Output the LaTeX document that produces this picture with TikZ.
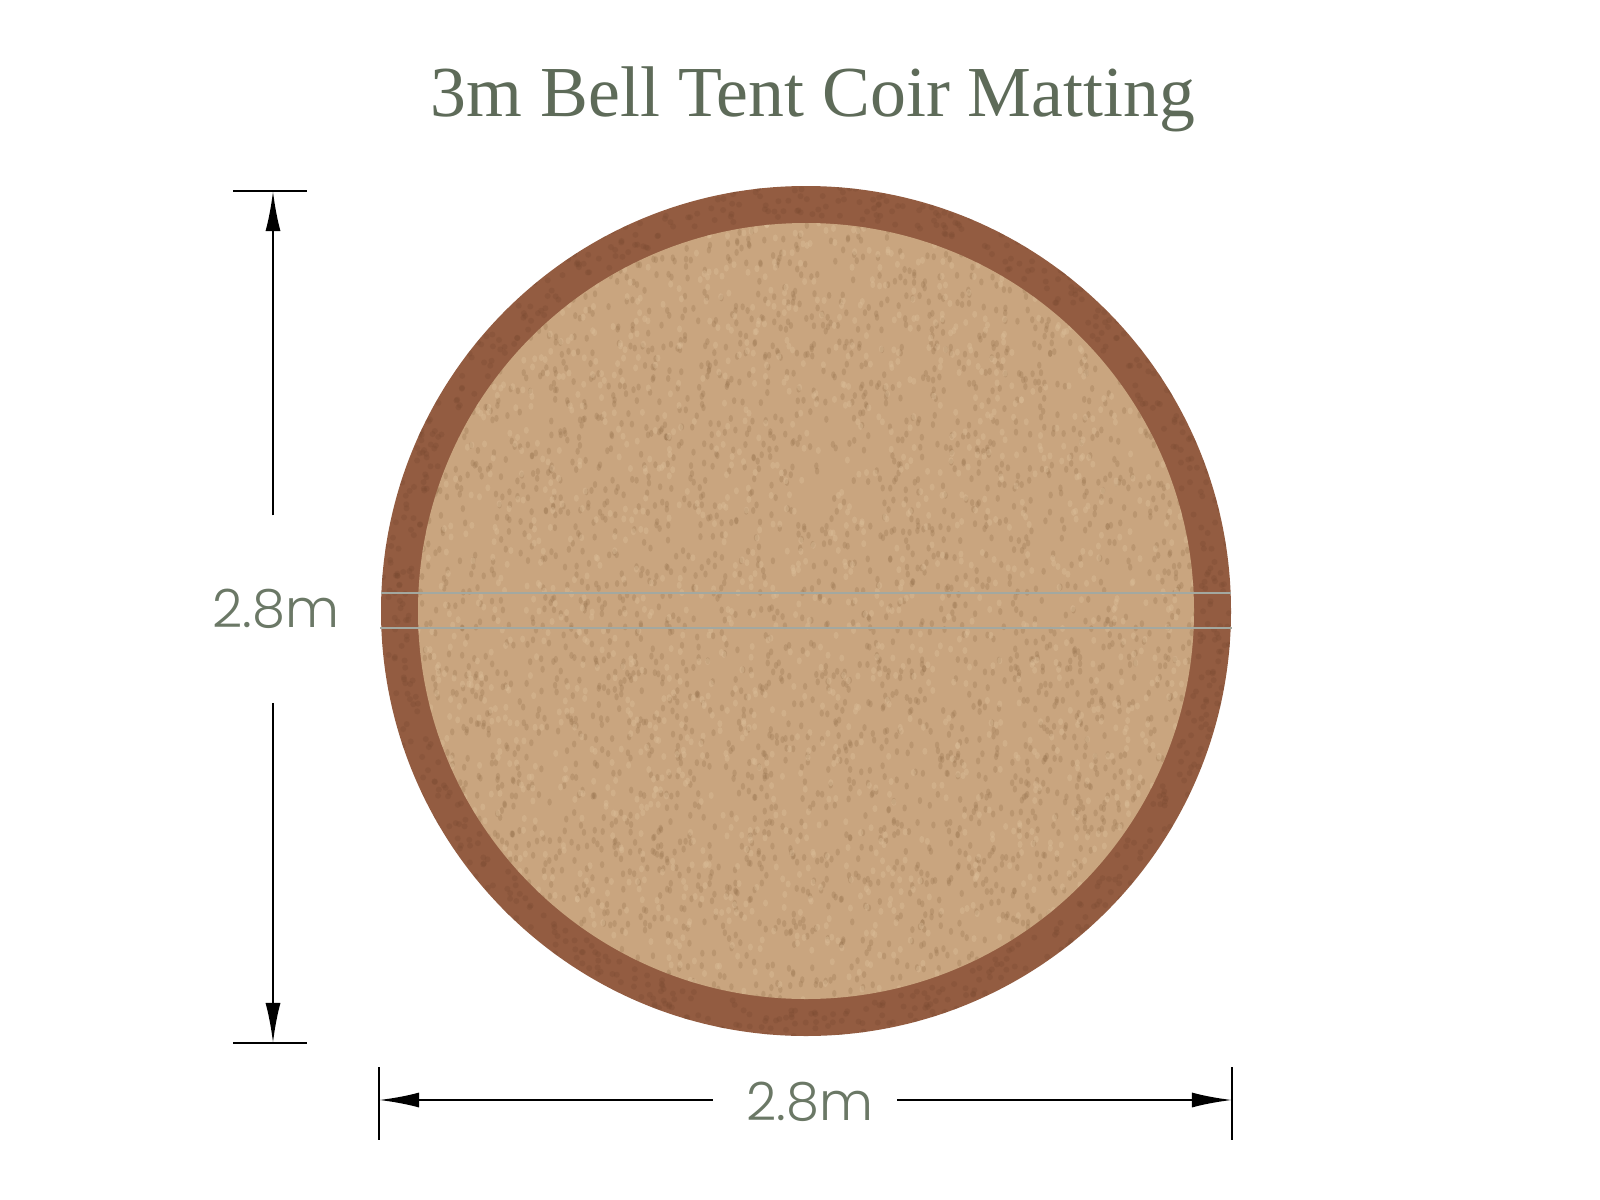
\documentclass[tikz,border=0pt]{standalone}
\usepackage{fontspec}
\setmainfont{Liberation Serif}
\IfFontExistsTF{Poppins Light}{\newfontfamily\dimfont{Poppins Light}}{\newfontfamily\dimfont{Poppins}}
\usetikzlibrary{arrows.meta}
\definecolor{titlegreen}{HTML}{5E6B59}
\definecolor{dimgreen}{HTML}{6B7866}
\definecolor{rim}{HTML}{935C41}
\definecolor{rimdark}{HTML}{7A4A31}
\definecolor{mat}{HTML}{C9A57F}
\definecolor{matdark}{HTML}{94704C}
\definecolor{matlight}{HTML}{DCBE9A}
\definecolor{seam}{HTML}{A3A8A0}
\begin{document}
\begin{tikzpicture}[x=0.01cm,y=-0.01cm,
  dimline/.style={line width=0.65pt,-{Latex[length=4mm,width=1.5mm]}},
  tickline/.style={line width=0.65pt},
  dimlabel/.style={font=\dimfont\fontsize{15}{18}\selectfont,text=dimgreen,inner sep=0pt},
  seamline/.style={seam,line width=0.5pt}]
\useasboundingbox (0,0) rectangle (1600,1200);
\fill[white] (0,0) rectangle (1600,1200);
% title
\node[font=\fontsize{20.4}{25}\selectfont,text=titlegreen,inner sep=0pt] (title) at (813,99) {3m Bell Tent Coir Matting};
% mat
\fill[rim] (806,611) circle (425);
\pgfmathsetseed{11}
\begin{scope}
\clip (806,611) circle (425);
\foreach \i in {1,...,700}{
  \pgfmathsetmacro\ang{rnd*360}
  \pgfmathsetmacro\rad{395+32*rnd}
  \fill[rimdark,opacity=0.3] (806,611) ++(\ang:\rad) circle (3);
}
\end{scope}
\fill[mat] (806,611) circle (388);
\begin{scope}
\clip (806,611) circle (388);
\foreach \i in {1,...,2600}{
  \pgfmathsetmacro\ang{rnd*360}
  \pgfmathsetmacro\rad{390*sqrt(rnd)}
  \fill[matdark,opacity=0.28] (806,611) ++(\ang:\rad) ellipse (2.2 and 3.5);
}
\foreach \i in {1,...,1500}{
  \pgfmathsetmacro\ang{rnd*360}
  \pgfmathsetmacro\rad{390*sqrt(rnd)}
  \fill[matlight,opacity=0.4] (806,611) ++(\ang:\rad) ellipse (2.5 and 3.5);
}
\end{scope}
\coordinate (s1l) at (381,593); \coordinate (s1r) at (1231,593);
\coordinate (s2l) at (380,628); \coordinate (s2r) at (1232,628);
\draw[seamline] (s1l) -- (s1r);
\draw[seamline] (s2l) -- (s2r);
% vertical dimension
\coordinate (vt1) at (233,191); \coordinate (vt2) at (307,191);
\coordinate (vb1) at (233,1043); \coordinate (vb2) at (307,1043);
\coordinate (vtop) at (273,191); \coordinate (vbot) at (273,1043);
\draw[tickline] (vt1) -- (vt2);
\draw[tickline] (vb1) -- (vb2);
\node[dimlabel,minimum height=1.86cm] (vlab) at (276,609) {2.8m};
\draw[dimline] (vlab.north -| vtop) -- (vtop);
\draw[dimline] (vlab.south -| vbot) -- (vbot);
% horizontal dimension
\coordinate (hl1) at (379,1067); \coordinate (hl2) at (379,1140);
\coordinate (hr1) at (1232,1067); \coordinate (hr2) at (1232,1140);
\coordinate (hleft) at (379,1100); \coordinate (hright) at (1232,1100);
\draw[tickline] (hl1) -- (hl2);
\draw[tickline] (hr1) -- (hr2);
\node[dimlabel,minimum width=1.83cm] (hlab) at (805,1102) {\hspace*{0.1cm}2.8m};
\draw[dimline] (hlab.west |- hleft) -- (hleft);
\draw[dimline] (hlab.east |- hright) -- (hright);
\end{tikzpicture}
\end{document}
